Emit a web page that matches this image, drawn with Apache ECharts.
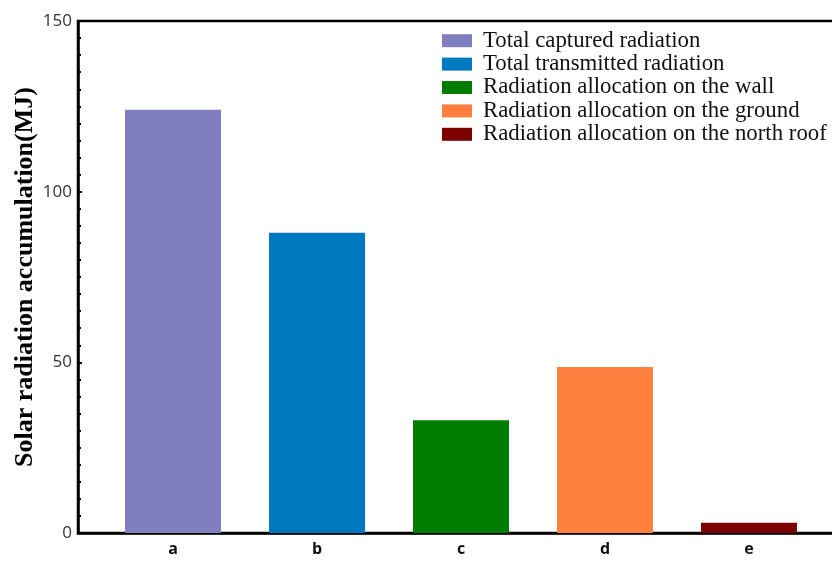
<!DOCTYPE html>
<html>
<head>
<meta charset="utf-8">
<script src="https://cdn.jsdelivr.net/npm/echarts@6/dist/echarts.min.js"></script>
<style>
  html, body { margin: 0; padding: 0; background: #fff; }
  #chart { width: 832px; height: 561px; }
</style>
</head>
<body>
<div id="chart"></div>
<script>
// Categories along the x axis (placed at positions 1..5)
const categories = ['a', 'b', 'c', 'd', 'e'];
// Series names, one bar each
const seriesNames = [
  'Total captured radiation',
  'Total transmitted radiation',
  'Radiation allocation on the wall',
  'Radiation allocation on the ground',
  'Radiation allocation on the north roof'
];
// Accumulated radiation per bar (MJ)
const values = [124, 88, 33, 48.6, 3];
const colors = ['#7f7fbf', '#0079c1', '#007d00', '#ff7f3f', '#7c0000'];
const yTicks = [0, 50, 100, 150];

const chart = echarts.init(document.getElementById('chart'));

const series = seriesNames.map((name, i) => ({
  name: name,
  type: 'bar',
  barWidth: 96,
  barGap: '-100%',
  itemStyle: { color: colors[i] },
  data: [[i + 1, values[i]]]
}));

chart.setOption({
  animation: false,
  grid: {
    // plot frame runs past the right edge of the canvas
    left: 78, top: 21, bottom: 28, width: 766,
    outerBoundsMode: 'none',
    containLabel: false,
    show: true, borderColor: '#000', borderWidth: 2.5, backgroundColor: 'transparent'
  },
  legend: {
    orient: 'vertical',
    left: 437, top: 24,
    itemWidth: 30, itemHeight: 13, itemGap: 0,
    icon: 'rect',
    data: seriesNames,
    textStyle: { fontFamily: 'Liberation Serif', fontSize: 22.8, lineHeight: 23.4, color: '#111', padding: [0, 0, 0, 6] }
  },
  xAxis: {
    type: 'value',
    min: 0.34, max: 5.66,
    splitLine: { show: false },
    axisLine: { show: true, lineStyle: { color: '#000', width: 2.5 } },
    axisTick: { show: true, inside: true, length: 4, customValues: [1, 2, 3, 4, 5], lineStyle: { color: '#000', width: 2 } },
    axisLabel: {
      customValues: [1, 2, 3, 4, 5],
      formatter: v => categories[Math.round(v) - 1] || '',
      fontFamily: 'Open Sans', fontWeight: 'bold', fontSize: 16, color: '#111', margin: 8
    }
  },
  yAxis: {
    type: 'value',
    min: 0, max: 150, interval: 50,
    name: 'Solar radiation accumulation(MJ)',
    nameLocation: 'middle',
    nameGap: 40,
    nameMoveOverlap: false,
    nameRotate: 90,
    nameTextStyle: { fontFamily: 'Liberation Serif', fontWeight: 'bold', fontSize: 26, color: '#000' },
    splitLine: { show: false },
    axisLine: { show: true, lineStyle: { color: '#000', width: 2.5 } },
    axisTick: { show: true, inside: true, length: 4, lineStyle: { color: '#000', width: 2 } },
    minorTick: { show: true, splitNumber: 10, length: 3, lineStyle: { color: '#000', width: 2 } },
    axisLabel: {
      formatter: v => (yTicks.indexOf(v) >= 0 ? String(v) : ''),
      fontFamily: 'Open Sans', fontSize: 17, color: '#333', margin: 6
    }
  },
  series: series
});
</script>
</body>
</html>
